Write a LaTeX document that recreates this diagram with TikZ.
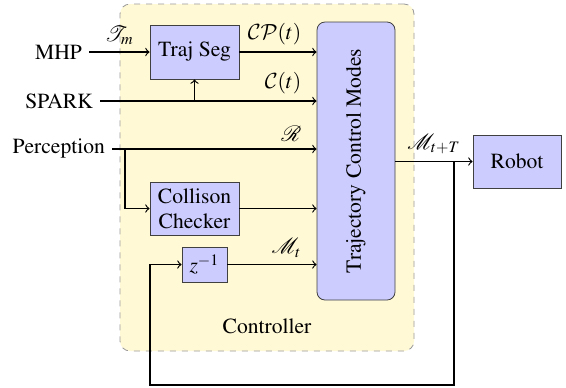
\documentclass[tikz,border=0pt]{standalone}
\usepackage[T1]{fontenc}
\usepackage{mathptmx}
\usepackage{mathrsfs}
\usepackage{graphicx}
\DeclareMathAlphabet{\mathcal}{OMS}{cmsy}{m}{n}
\definecolor{ctrlfill}{RGB}{255,249,214}
\begin{document}
\begin{tikzpicture}[x=0.5pt,y=-0.5pt,>=to,
  every node/.style={font=\fontsize{10.8pt}{12.6pt}\selectfont},
  blk/.style={draw=black!75,fill=blue!20,inner sep=0pt,align=center},
  ctrl/.style={draw=black!40,dashed,fill=ctrlfill,rounded corners=5pt,inner sep=0pt},
  sig/.style={semithick},
  inl/.style={pos=1,above left,xshift=-4pt}]
\useasboundingbox (0,0) rectangle (566,387);
\node[ctrl,minimum width=147pt,minimum height=173.5pt] (ctrl) at (267,177.5) {};
\node (clab) at (267,326) {Controller};
\node[blk,minimum width=44.5pt,minimum height=27pt] (ts) at (194.5,52) {Traj Seg};
\node[blk,minimum width=44.5pt,minimum height=26.5pt] (cc) at (194.5,208.5) {Collison\\Checker};
\node[blk,minimum width=22.5pt,minimum height=17.5pt] (z) at (204.5,264.5) {$z^{-1}$};
\node[blk,rounded corners=4pt,minimum width=39pt,minimum height=139pt] (tcm) at (356,161) {\rotatebox{90}{Trajectory Control Modes}};
\node[blk,minimum width=44pt,minimum height=26.5pt] (rob) at (517,161.5) {Robot};
\node[anchor=east] (mhp) at (89,52) {MHP};
\node[anchor=east] (spark) at (100,101) {SPARK};
\node[anchor=east] (perc) at (112,149) {Perception};
\draw[sig,->] (mhp) -- node[above]{$\mathscr{T}_m$} (ts);
\draw[sig,->] (ts) -- node[inl]{$\mathcal{CP}(t)$} (ts -| tcm.west);
\draw[sig,->] (spark) -- node[inl]{$\mathcal{C}(t)$} (spark -| tcm.west);
\coordinate (sb) at (ts.south |- spark);
\draw[sig,->] (sb) -- (ts.south);
\draw[sig,->] (perc) -- node[inl]{$\mathscr{R}$} (perc -| tcm.west);
\coordinate (pb) at (125,149);
\draw[sig,->] (pb) |- (cc);
\draw[sig,->] (cc) -- (cc -| tcm.west);
\draw[sig,->] (z) -- node[inl]{$\mathscr{M}_t$} (z -| tcm.west);
\coordinate (out) at (tcm.east |- rob);
\draw[sig,->] (out) -- node[above]{$\mathscr{M}_{t+T}$} (rob);
\coordinate (fb) at (454,161.5);
\coordinate (fbb) at (454,385);
\coordinate (fbl) at (150,385);
\draw[sig,->] (fb) -- (fbb) -- (fbl) |- (z);
\end{tikzpicture}
\end{document}
